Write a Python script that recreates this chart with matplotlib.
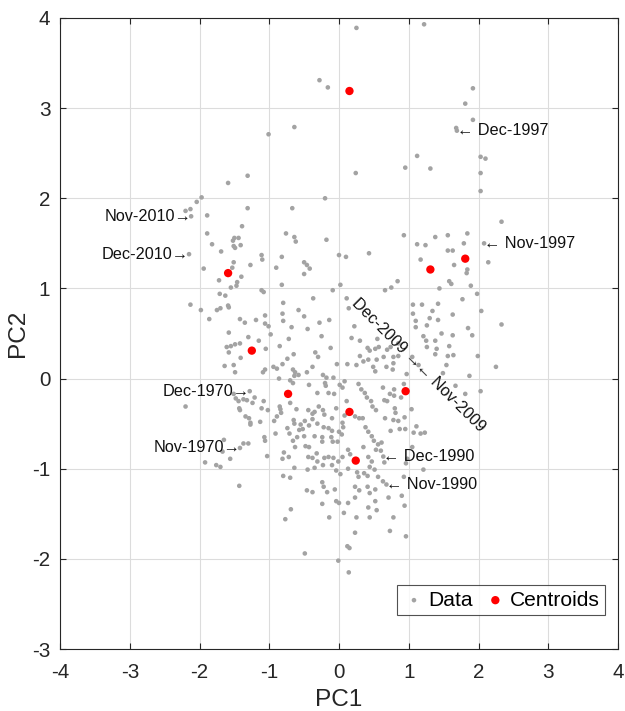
import matplotlib
matplotlib.use("Agg")
import matplotlib.pyplot as plt
from matplotlib import font_manager as fm

# ---------------- data ----------------
upper_pts = [(-1.59,2.17),(-1.31,2.25),(-1.97,2.01),(-2.04,1.96),(-2.13,1.88),(-2.20,1.86),(-2.12,1.80),
             (-1.89,1.81),(-1.31,1.89),(-1.39,1.69),(0.25,3.89),(1.22,3.93),(-0.28,3.31),(-0.16,3.23),
             (-0.64,2.79),(-1.01,2.71),(1.12,2.47),(0.95,2.34),(1.31,2.33),(0.24,2.28),(-0.20,2.00),
             (-0.67,1.89),(1.92,3.22),(1.81,3.05),(1.92,2.87),(1.68,2.78),(1.69,2.75),(2.03,2.46),
             (2.10,2.44),(2.03,2.28),(2.03,2.08),(2.33,1.74)]
mid_left_pts = [(-1.89,1.61),(-1.50,1.56),(-1.44,1.56),(-1.52,1.53),(-1.41,1.48),(-1.51,1.47),(-1.49,1.45),
                (-1.82,1.49),(-1.69,1.41),(-1.51,1.29),(-1.27,1.26),(-1.94,1.22),(-1.53,1.23),(-1.40,1.13),
                (-1.72,1.09),(-1.46,1.07),(-1.47,1.03),(-1.55,1.01),(-1.71,0.94),(-1.63,0.92),(-2.13,0.82),
                (-1.98,0.76),(-1.75,0.76),(-1.70,0.78),(-1.59,0.81),(-1.58,0.79),(-1.86,0.66),(-1.42,0.66),
                (-1.35,0.62),(-2.15,1.38)]
mid_center_pts = [(-0.76,1.61),(-0.64,1.57),(-0.62,1.52),(-0.18,1.54),(0.93,1.59),(1.12,1.49),(1.24,1.48),
                  (1.38,1.57),(-1.11,1.37),(-1.10,1.32),(-0.82,1.35),(-0.90,1.23),(-0.50,1.29),(-0.46,1.26),
                  (-0.42,1.22),(-0.50,1.16),(0.00,1.37),(0.10,1.35),(0.43,1.39),(1.17,1.32),(-0.82,1.04),
                  (-1.11,0.98),(-1.08,0.96),(-0.09,0.98),(0.02,1.04),(0.84,1.08),(0.75,1.01),(0.66,0.98),
                  (-0.37,0.89),(-0.80,0.84),(0.11,0.89),(0.14,0.78),(-0.81,0.72),(-0.58,0.76),(-0.50,0.69),
                  (-0.80,0.64),(-0.68,0.57),(-0.28,0.62),(-0.14,0.65),(-1.19,0.65),(-1.06,0.70),(-1.06,0.61),
                  (-1.01,0.58),(-0.45,0.55),(0.22,0.58),(1.06,0.82),(1.06,0.72),(1.19,0.82),(1.34,0.75),
                  (1.30,0.67),(1.10,0.64),(1.10,0.57),(1.26,0.59)]
right_pts = [(1.56,1.59),(1.84,1.61),(1.79,1.50),(2.08,1.50),(1.56,1.42),(1.63,1.42),(1.65,1.26),(1.84,1.21),
             (1.83,1.17),(2.14,1.29),(1.58,1.08),(1.61,1.05),(1.44,1.00),(1.89,1.03),(1.98,0.94),(1.77,0.88),
             (1.42,0.83),(2.04,0.75),(1.63,0.71),(2.33,0.60),(1.42,0.65),(1.85,0.56),(1.91,0.48),(1.47,0.50),
             (1.63,0.48),(1.58,0.36),(1.56,0.25),(1.64,0.26),(1.99,0.25),(1.54,0.15),(2.25,0.13),(1.49,0.06),
             (1.87,0.03),(1.67,-0.08),(1.81,-0.17),(2.03,-0.14)]
band_pts = [(0.18,0.45),(0.30,0.42),(0.41,0.34),(0.44,0.31),(0.52,0.33),(0.57,0.35),(0.69,0.32),(0.74,0.35),
            (0.85,0.25),(0.78,0.24),(0.64,0.24),(0.54,0.21),(0.30,0.25),(0.35,0.19),(0.42,0.21),(0.25,0.15),
            (0.49,0.13),(0.68,0.13),(0.78,0.17),(1.38,0.42),(1.21,0.47),(1.40,0.33),(1.05,0.24),(1.25,0.42),
            (1.26,0.35),(1.38,0.27),(0.85,0.39),(0.55,0.44),(0.12,0.16)]
center_left_pts = [(-1.58,0.51),(-1.30,0.46),(-1.15,0.42),(-0.98,0.49),(-0.72,0.44),(-0.25,0.47),
                   (-1.61,0.35),(-1.55,0.36),(-1.49,0.38),(-1.42,0.39),(-1.58,0.29),(-1.05,0.33),(-0.85,0.36),
                   (-0.65,0.27),(-0.74,0.22),(-0.34,0.29),(-0.30,0.24),(-0.12,0.34),(-1.41,0.23),(-1.64,0.14),
                   (-1.51,0.15),(-1.49,0.07),(-1.09,0.07),(-1.06,0.10),(-0.94,0.13),(-0.89,0.11),(-0.81,0.16),
                   (-0.66,0.10),(-0.63,0.07),(-0.64,0.03),(-0.58,0.04),(-0.46,0.07),(-0.38,0.13),(-0.03,0.16),
                   (-0.86,0.00),(-0.70,-0.02),(-0.66,-0.05),(-0.43,-0.07),(-0.23,0.04),(-0.18,0.01),(-0.08,0.01),
                   (-0.20,-0.05),(-0.19,-0.08),(-0.31,-0.16),(-0.15,-0.16),(-0.07,-0.17),(-1.51,-0.17),
                   (-1.48,-0.22),(-1.44,-0.25),(-1.37,-0.23),(-1.32,-0.24),(-1.21,-0.21),(-1.24,-0.27),
                   (-1.08,-0.25),(-2.20,-0.31),(-1.43,-0.33),(-1.42,-0.35),(-1.11,-0.33),(-1.02,-0.35),
                   (-0.85,-0.31),(-0.84,-0.34),(-0.83,-0.38),(-0.70,-0.27),(-0.61,-0.34),(-0.44,-0.35),
                   (-0.35,-0.37),(-0.38,-0.39),(-0.29,-0.31),(-0.23,-0.35),(-0.21,-0.40),(-0.10,-0.44),
                   (-0.04,-0.33),(-1.34,-0.42),(-1.29,-0.44),(-1.27,-0.49),(-1.27,-0.51),(-1.13,-0.48),
                   (-0.89,-0.42),(-0.93,-0.47),(-0.65,-0.46),(-0.64,-0.50),(-0.55,-0.51),(-0.49,-0.47),
                   (-0.43,-0.52),(-0.74,-0.55),(-0.57,-0.57),(-0.52,-0.56),(-0.38,-0.45),(-0.31,-0.50),
                   (-0.22,-0.54),(-0.15,-0.55),(-0.10,-0.58),(-1.07,-0.65),(-1.06,-0.69),(-0.91,-0.61),
                   (-0.71,-0.61),(-0.66,-0.69),(-0.60,-0.65),(-0.63,-0.76),(-0.48,-0.75),(-0.43,-0.76),
                   (-0.50,-0.64),(-0.35,-0.64),(-0.24,-0.65),(-0.24,-0.70),(-0.11,-0.65),(-0.09,-0.70),
                   (-0.02,-0.70),(-1.65,-0.68),(-1.37,-0.72),(-1.30,-0.72),(-1.67,-0.81),(-1.56,-0.89),
                   (-1.92,-0.93),(-1.76,-0.96),(-1.70,-0.98),(-1.03,-0.86),(-0.79,-0.82),(-0.72,-0.87),
                   (-0.81,-0.89),(-0.44,-0.87),(-0.38,-0.88),(-0.32,-0.83),(-0.31,-0.92),(-0.21,-0.88),
                   (-0.15,-0.87),(-0.08,-0.88),(-0.64,-0.99),(-0.45,-1.01),(-0.35,-0.99),(-0.23,-0.96),
                   (-0.10,-0.96),(-0.04,-1.02),(-1.43,-1.19),(-0.80,-1.08),(-0.70,-1.10),(-0.46,-1.24),
                   (-0.38,-1.26),(-0.24,-1.15),(-0.22,-1.20),(-0.17,-1.26),(-0.06,-1.23),(-0.24,-1.39),
                   (-0.04,-1.36),(-0.69,-1.45),(-0.77,-1.56),(-0.14,-1.54),(-1.28,-0.14),(-1.42,-0.77)]
center_right_pts = [(0.52,0.08),(0.77,0.10),(0.08,-0.03),(0.01,-0.07),(0.05,-0.10),(0.97,0.05),(0.93,-0.06),
                    (0.63,-0.10),(0.73,-0.17),(0.79,-0.12),(0.79,-0.19),(0.28,-0.06),(0.32,-0.12),(0.37,-0.16),
                    (0.40,-0.21),(0.46,-0.25),(0.48,-0.31),(0.53,-0.35),(0.65,-0.24),(0.69,-0.25),(0.80,-0.33),
                    (0.81,-0.38),(0.89,-0.21),(1.04,-0.34),(0.11,-0.25),(0.08,-0.41),(0.05,-0.49),(0.06,-0.54),
                    (0.00,-0.59),(0.04,-0.62),(0.23,-0.42),(0.29,-0.44),(0.34,-0.44),(0.38,-0.54),(0.42,-0.59),
                    (0.47,-0.64),(0.50,-0.69),(0.56,-0.73),(0.61,-0.71),(0.66,-0.44),(0.78,-0.46),(0.85,-0.47),
                    (0.94,-0.43),(0.74,-0.58),(0.87,-0.56),(0.95,-0.56),(1.07,-0.60),(1.11,-0.53),(1.17,-0.61),
                    (1.23,-0.60),(1.05,-0.76),(0.98,-0.89),(0.96,-0.94),(-0.01,-0.92),(0.05,-0.87),(0.13,-0.79),
                    (0.16,-0.84),(0.35,-0.76),(0.42,-0.87),(0.47,-0.92),(0.53,-0.79),(0.60,-0.80),(0.65,-0.93),
                    (0.02,-1.06),(0.13,-1.00),(0.26,-1.04),(0.28,-1.09),(0.36,-1.05),(0.41,-1.08),(0.44,-0.98),
                    (0.51,-1.01),(0.56,-1.09),(0.63,-1.14),(0.93,-1.09),(0.23,-1.20),(0.29,-1.24),(0.41,-1.20),
                    (0.44,-1.27),(0.52,-1.23),(0.00,-1.38),(0.13,-1.38),(0.23,-1.32),(0.52,-1.36),(0.71,-1.32),
                    (0.94,-1.41),(0.07,-1.49),(0.42,-1.43),(0.54,-1.46),(0.25,-1.54),(0.44,-1.54),
                    (0.635,-0.865),(0.68,-1.175),(1.14,0.15),(0.90,-1.30),(1.21,-1.01),(0.78,-1.54)]
bottom_pts = [(-0.49,-1.94),(-0.01,-2.02),(0.14,-2.15),(0.12,-1.86),(0.15,-1.88),(0.23,-1.71),(0.73,-1.69),
              (0.96,-1.75)]

centroid_pc1 = [0.15, 1.31, 1.81, -1.59, -1.25, -0.73, 0.15, 0.955, 0.24]
centroid_pc2 = [3.19, 1.21, 1.33, 1.17, 0.31, -0.17, -0.37, -0.14, -0.91]

# annotations: label, x, y, side ('L' = text left of point, 'R' = right of point), rotation
ann_labels = ["Nov-2010", "Dec-2010", "Dec-1997", "Nov-1997", "Dec-1970", "Nov-1970",
              "Dec-1990", "Nov-1990", "Dec-2009", "Nov-2009"]
ann_x = [-2.12, -2.15, 1.69, 2.08, -1.28, -1.42, 0.635, 0.68, 1.14, 1.14]
ann_y = [1.80, 1.38, 2.75, 1.50, -0.14, -0.77, -0.865, -1.175, 0.15, 0.15]
ann_side = ["L", "L", "R", "R", "L", "L", "R", "R", "L", "R"]
ann_rot = [0, 0, 0, 0, 0, 0, 0, 0, -45, -45]

x_ticks = [-4, -3, -2, -1, 0, 1, 2, 3, 4]
y_ticks = [-3, -2, -1, 0, 1, 2, 3, 4]

# ---------------- fonts ----------------
names = {f.name for f in fm.fontManager.ttflist}
if "Liberation Sans Narrow" in names:
    fam = ["Liberation Sans Narrow", "DejaVu Sans"]
    k = 1.0
else:
    fam = ["Liberation Sans", "DejaVu Sans"]
    k = 0.9
plt.rcParams["font.family"] = fam

all_pts = (upper_pts + mid_left_pts + mid_center_pts + right_pts + band_pts +
           center_left_pts + center_right_pts + bottom_pts)
pc1 = [p[0] for p in all_pts]
pc2 = [p[1] for p in all_pts]

fig = plt.figure(figsize=(6.25, 7.11), dpi=100)
ax = fig.add_axes([0.096, 0.0872, 0.8928, 0.8875])

ax.scatter(pc1, pc2, s=11, color="#a3a3a3", edgecolors="none", zorder=3, label="Data")
ax.scatter(centroid_pc1, centroid_pc2, s=36, color="#ff0000", edgecolors="none", zorder=4,
           label="Centroids")

tc = "#262626"
for lab, x, y, side, rot in zip(ann_labels, ann_x, ann_y, ann_side, ann_rot):
    if side == "L":
        txt = lab + (" \u2192" if rot else "\u2192")
        ha = "right"
    else:
        txt = "\u2190 " + lab
        ha = "left"
    ax.text(x, y, txt, ha=ha, va="center", rotation=rot, rotation_mode="anchor",
            fontsize=13 * k, color="#111111", zorder=5)

ax.set_xlim(-4, 4)
ax.set_ylim(-3, 4)
ax.set_xticks(x_ticks)
ax.set_yticks(y_ticks)
ax.set_xticklabels([str(t) for t in x_ticks])
ax.set_yticklabels([str(t) for t in y_ticks])
ax.grid(True, color="#dcdcdc", linewidth=0.8, zorder=0)
ax.set_axisbelow(True)
ax.tick_params(direction="in", top=True, right=True, length=4, width=0.8, colors=tc,
               labelsize=16.5 * k, labelcolor=tc)
ax.tick_params(axis="x", pad=10)
ax.tick_params(axis="y", pad=7)
for sp in ax.spines.values():
    sp.set_color(tc)
    sp.set_linewidth(0.8)
ax.set_xlabel("PC1", fontsize=19.5 * k, color=tc, labelpad=5)
ax.set_ylabel("PC2", fontsize=19.5 * k, color=tc, labelpad=2)

leg = ax.legend(loc="lower right", bbox_to_anchor=(0.977, 0.054), borderaxespad=0, ncol=2,
                fontsize=16.8 * k, frameon=True, fancybox=False, edgecolor="#262626",
                handletextpad=0.15, columnspacing=0.5, handlelength=1.1, borderpad=0.25,
                markerscale=1.0)
leg.get_frame().set_linewidth(0.8)

fig.savefig("out.png", dpi=100)
